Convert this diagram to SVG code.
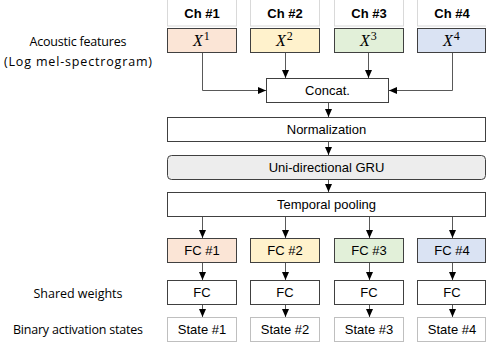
<svg xmlns="http://www.w3.org/2000/svg" width="486" height="343" viewBox="0 0 486 343">
<style>
.lbl{font-family:"Open Sans",Lato,sans-serif;font-size:12.5px;fill:#000;text-anchor:middle}
.t{font-family:"Liberation Sans",Arial,sans-serif;font-size:13px;fill:#000;text-anchor:middle}
.hd{font-family:"Liberation Sans",Arial,sans-serif;font-size:13px;font-weight:bold;fill:#000;text-anchor:middle}
.x{font-family:"Liberation Serif","DejaVu Serif",serif;font-size:16px;font-style:italic;fill:#000}
.sup{font-style:normal;font-size:12px}
.ch{fill:#fff;stroke:#d9d9d9;stroke-width:1}
.bx{fill:#fff;stroke:#404040;stroke-width:1}
.st{fill:#fff;stroke:#bfbfbf;stroke-width:1}
.c1{fill:#fbe5d6}.c2{fill:#fff2cc}.c3{fill:#e2f0d9}.c4{fill:#dae3f3}
.ln{fill:none;stroke:#595959;stroke-width:1;marker-end:url(#ah)}
</style>
<defs>
<marker id="ah" markerUnits="userSpaceOnUse" markerWidth="8" markerHeight="8" refX="8" refY="4" orient="auto">
<path d="M0,0.5 L8,4 L0,7.5 z" fill="#000"/>
</marker>
</defs>
<rect width="486" height="343" fill="#fff"/>

<g id="labels">
<text class="lbl" x="78" y="46" textLength="97" lengthAdjust="spacing">Acoustic features</text>
<text class="lbl" x="78" y="66" textLength="148" lengthAdjust="spacing">(Log mel-spectrogram)</text>
<text class="lbl" x="78" y="298" textLength="89" lengthAdjust="spacing">Shared weights</text>
<text class="lbl" x="78" y="334" textLength="130" lengthAdjust="spacing">Binary activation states</text>
</g>

<g id="ch1"><rect class="ch" x="167.5" y="-1" width="69" height="27"/><text class="hd" x="202" y="18">Ch #1</text></g>
<g id="ch2"><rect class="ch" x="250.5" y="-1" width="69" height="27"/><text class="hd" x="285" y="18">Ch #2</text></g>
<g id="ch3"><rect class="ch" x="334.5" y="-1" width="69" height="27"/><text class="hd" x="369" y="18">Ch #3</text></g>
<g id="ch4"><rect class="ch" x="417.5" y="-1" width="69" height="27"/><text class="hd" x="452" y="18">Ch #4</text></g>

<g id="x1"><rect class="bx c1" x="167.5" y="28.5" width="69" height="24"/><text class="x" x="193" y="46">X<tspan class="sup" dx="1" dy="-6">1</tspan></text></g>
<g id="x2"><rect class="bx c2" x="250.5" y="28.5" width="69" height="24"/><text class="x" x="276" y="46">X<tspan class="sup" dx="1" dy="-6">2</tspan></text></g>
<g id="x3"><rect class="bx c3" x="334.5" y="28.5" width="69" height="24"/><text class="x" x="360" y="46">X<tspan class="sup" dx="1" dy="-6">3</tspan></text></g>
<g id="x4"><rect class="bx c4" x="417.5" y="28.5" width="68" height="24"/><text class="x" x="443" y="46">X<tspan class="sup" dx="1" dy="-6">4</tspan></text></g>

<g id="concat"><rect class="bx" x="266.5" y="78.5" width="122" height="24"/><text class="t" x="327.5" y="95">Concat.</text></g>
<g id="norm"><rect class="bx" x="167.5" y="117.5" width="318" height="24"/><text class="t" x="326.5" y="134">Normalization</text></g>
<g id="gru"><rect class="bx" x="167.5" y="155.5" width="318" height="24" rx="4" style="fill:#ededed"/><text class="t" x="326.5" y="172">Uni-directional GRU</text></g>
<g id="pool"><rect class="bx" x="167.5" y="192.5" width="318" height="24"/><text class="t" x="326.5" y="209">Temporal pooling</text></g>

<g id="fc1"><rect class="bx c1" x="167.5" y="238.5" width="69" height="24"/><text class="t" x="202" y="255">FC #1</text></g>
<g id="fc2"><rect class="bx c2" x="250.5" y="238.5" width="69" height="24"/><text class="t" x="285" y="255">FC #2</text></g>
<g id="fc3"><rect class="bx c3" x="334.5" y="238.5" width="69" height="24"/><text class="t" x="369" y="255">FC #3</text></g>
<g id="fc4"><rect class="bx c4" x="417.5" y="238.5" width="68" height="24"/><text class="t" x="452" y="255">FC #4</text></g>

<g id="sfc1"><rect class="bx" x="167.5" y="280.5" width="69" height="24"/><text class="t" x="202" y="297">FC</text></g>
<g id="sfc2"><rect class="bx" x="250.5" y="280.5" width="69" height="24"/><text class="t" x="285" y="297">FC</text></g>
<g id="sfc3"><rect class="bx" x="334.5" y="280.5" width="69" height="24"/><text class="t" x="369" y="297">FC</text></g>
<g id="sfc4"><rect class="bx" x="417.5" y="280.5" width="68" height="24"/><text class="t" x="452" y="297">FC</text></g>

<g id="s1"><rect class="st" x="167.5" y="317.5" width="69" height="24"/><text class="t" x="202" y="334">State #1</text></g>
<g id="s2"><rect class="st" x="250.5" y="317.5" width="69" height="24"/><text class="t" x="285" y="334">State #2</text></g>
<g id="s3"><rect class="st" x="334.5" y="317.5" width="69" height="24"/><text class="t" x="369" y="334">State #3</text></g>
<g id="s4"><rect class="st" x="417.5" y="317.5" width="68" height="24"/><text class="t" x="452" y="334">State #4</text></g>

<g id="connectors">
<path class="ln" d="M202.5,53 V90.5 H266"/>
<path class="ln" d="M285.5,53 V78"/>
<path class="ln" d="M368.5,53 V78"/>
<path class="ln" d="M452.5,53 V90.5 H389"/>
<path class="ln" d="M328.5,103 V117"/>
<path class="ln" d="M328.5,142 V155"/>
<path class="ln" d="M328.5,180 V192"/>
<path class="ln" d="M202.5,217 V238"/>
<path class="ln" d="M285.5,217 V238"/>
<path class="ln" d="M369.5,217 V238"/>
<path class="ln" d="M452.5,217 V238"/>
<path class="ln" d="M202.5,263 V280"/>
<path class="ln" d="M285.5,263 V280"/>
<path class="ln" d="M369.5,263 V280"/>
<path class="ln" d="M452.5,263 V280"/>
<path class="ln" d="M202.5,305 V317"/>
<path class="ln" d="M285.5,305 V317"/>
<path class="ln" d="M369.5,305 V317"/>
<path class="ln" d="M452.5,305 V317"/>
</g>
</svg>
